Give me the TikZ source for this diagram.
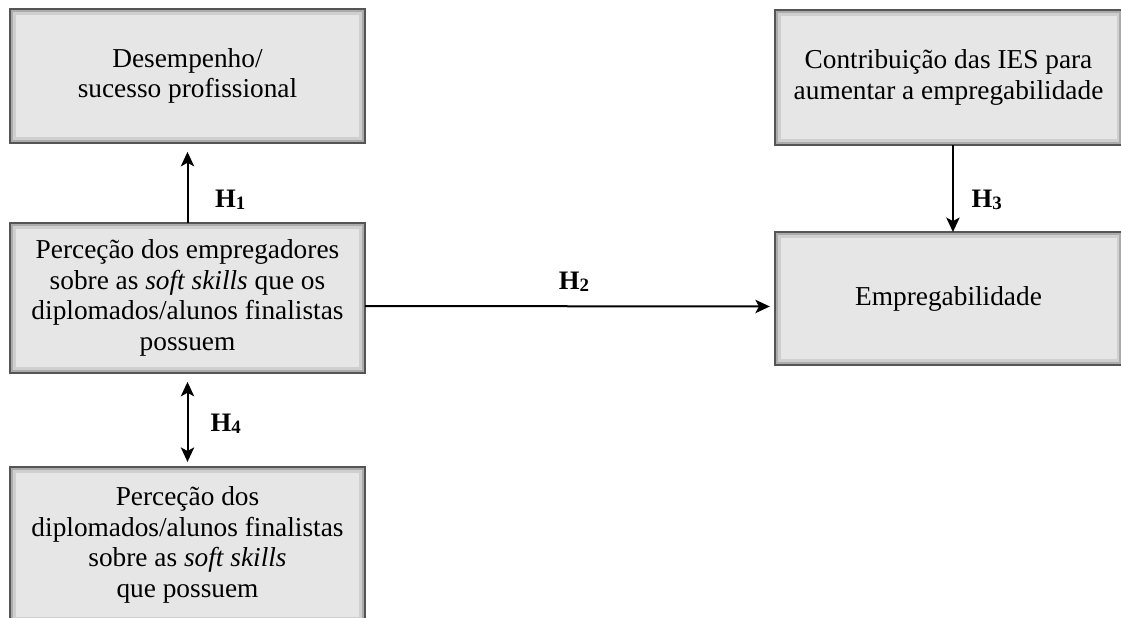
\documentclass[tikz,border=0pt]{standalone}
\usepackage{fontspec}
\setmainfont{Liberation Serif}
\usetikzlibrary{arrows.meta}
\definecolor{boxfill}{HTML}{E6E6E6}
\definecolor{boxedge}{HTML}{555555}
\definecolor{boxbevel}{HTML}{ABABAB}
\definecolor{boxsoft}{HTML}{CFCFCF}
\newcommand{\hyp}[1]{\textbf{H\lower0.2ex\hbox{\fontsize{8.5}{9}\selectfont\bfseries #1}}}

\begin{document}
\begin{tikzpicture}[x=0.45pt,y=-0.45pt,
   box/.style={draw=boxedge,line width=0.6pt,fill=boxfill,align=center,
               inner sep=0pt,outer sep=0pt,font=\fontsize{12.3}{13.8}\selectfont,
               path picture={
                 \draw[boxsoft,line width=5pt] (path picture bounding box.south west)
                   rectangle (path picture bounding box.north east);
                 \draw[boxbevel,line width=2.6pt] (path picture bounding box.south west)
                   rectangle (path picture bounding box.north east);}},
   hyp/.style={font=\fontsize{12}{13.6}\selectfont,inner sep=0pt},
   ar/.style={-{Stealth[length=6.5pt,width=6pt,inset=1.6pt]},line width=0.9pt},
   dar/.style={{Stealth[length=6.5pt,width=6pt,inset=1.6pt]}-{Stealth[length=6.5pt,width=6pt,inset=1.6pt]},
               line width=0.9pt}]
  \useasboundingbox (0,0) rectangle (1121,617);
  \clip (0,0) rectangle (1121,617);
  % left column
  \node[box,minimum width=159.75pt,minimum height=60.3pt] (desemp) at (187.5,76)
    {Desempenho/\\sucesso profissional};
  \node[box,minimum width=159.75pt,minimum height=67.5pt] (empreg) at (187.5,298)
    {Perceção dos empregadores\\sobre as \textit{soft skills} que os\\diplomados/alunos finalistas\\possuem};
  \node[box,minimum width=159.75pt,minimum height=70.2pt] (diplom) at (187.5,545)
    {Perceção dos\\diplomados/alunos finalistas\\sobre as \textit{soft skills}\\que possuem};
  % right column
  \node[box,minimum width=156.2pt,minimum height=60.75pt] (ies) at (948.5,77.5)
    {Contribuição das IES para\\aumentar a empregabilidade};
  \node[box,minimum width=156.2pt,minimum height=59.85pt] (empab) at (948.5,298.5)
    {Empregabilidade};
  % hypotheses
  \draw[ar,shorten >=4pt] (empreg) -- node[hyp,pos=0.29,right=12pt] {\hyp{1}} (desemp);
  \draw[ar,shorten >=2.3pt] ([yshift=-3.6pt]empreg.east) -- node[hyp,pos=0.51,above=6pt] {\hyp{2}}
    ([yshift=-3.6pt]empab.west);
  \draw[ar] ([xshift=2pt]ies.south) -- node[hyp,pos=0.63,right=8pt] {\hyp{3}} ([xshift=2pt]empab.north);
  \draw[dar,shorten <=4pt,shorten >=2.3pt] (empreg) -- node[hyp,pos=0.54,right=10pt] {\hyp{4}} (diplom);
\end{tikzpicture}
\end{document}
